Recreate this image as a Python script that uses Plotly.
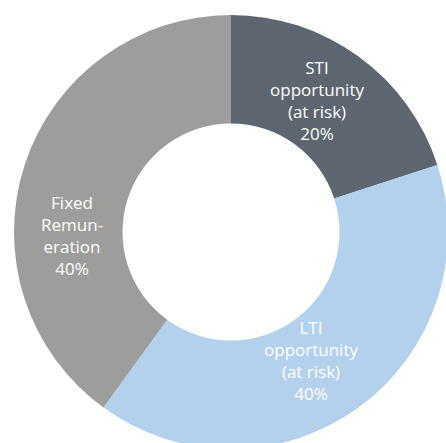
import plotly.graph_objects as go

# ---- data ----
categories = ["STI opportunity (at risk)", "LTI opportunity (at risk)", "Fixed Remuneration"]
values = [20, 40, 40]
label_lines = [
    ["STI", "opportunity", "(at risk)"],
    ["LTI", "opportunity", "(at risk)"],
    ["Fixed", "Remun-", "eration"],
]

# ---- styles ----
colors = ["#5d6570", "#b3d1ec", "#9d9d9c"]
W, H = 462, 462
ML, MT, MR, MB = 14, 15, 14, 13
label_px = [(317, 100), (311, 360), (72, 235)]  # pixel centres of labels
FONT = "'Open Sans', Lato, sans-serif"

fig = go.Figure(go.Pie(
    labels=categories,
    values=values,
    hole=0.5,
    sort=False,
    direction="clockwise",
    rotation=0,
    marker=dict(colors=colors, line=dict(width=0)),
    textinfo="none",
    hoverinfo="label+percent",
    showlegend=False,
))

pw, ph = W - ML - MR, H - MT - MB
total = sum(values)
for lines, v, (px, py) in zip(label_lines, values, label_px):
    txt = "<br>".join(lines + [f"{round(100 * v / total)}%"])
    fig.add_annotation(
        x=(px - ML) / pw, y=1 - (py - MT) / ph, xref="paper", yref="paper",
        xanchor="center", yanchor="middle",
        text=txt, showarrow=False, align="center",
        font=dict(family=FONT, size=17, color="white"),
    )

fig.update_layout(
    width=W, height=H,
    margin=dict(l=ML, t=MT, r=MR, b=MB),
    paper_bgcolor="white", plot_bgcolor="white",
)

fig.write_html(
    "out.html",
    post_script="document.documentElement.style.overflow='hidden';"
                "document.body.style.overflow='hidden';document.body.style.margin='0';",
)
